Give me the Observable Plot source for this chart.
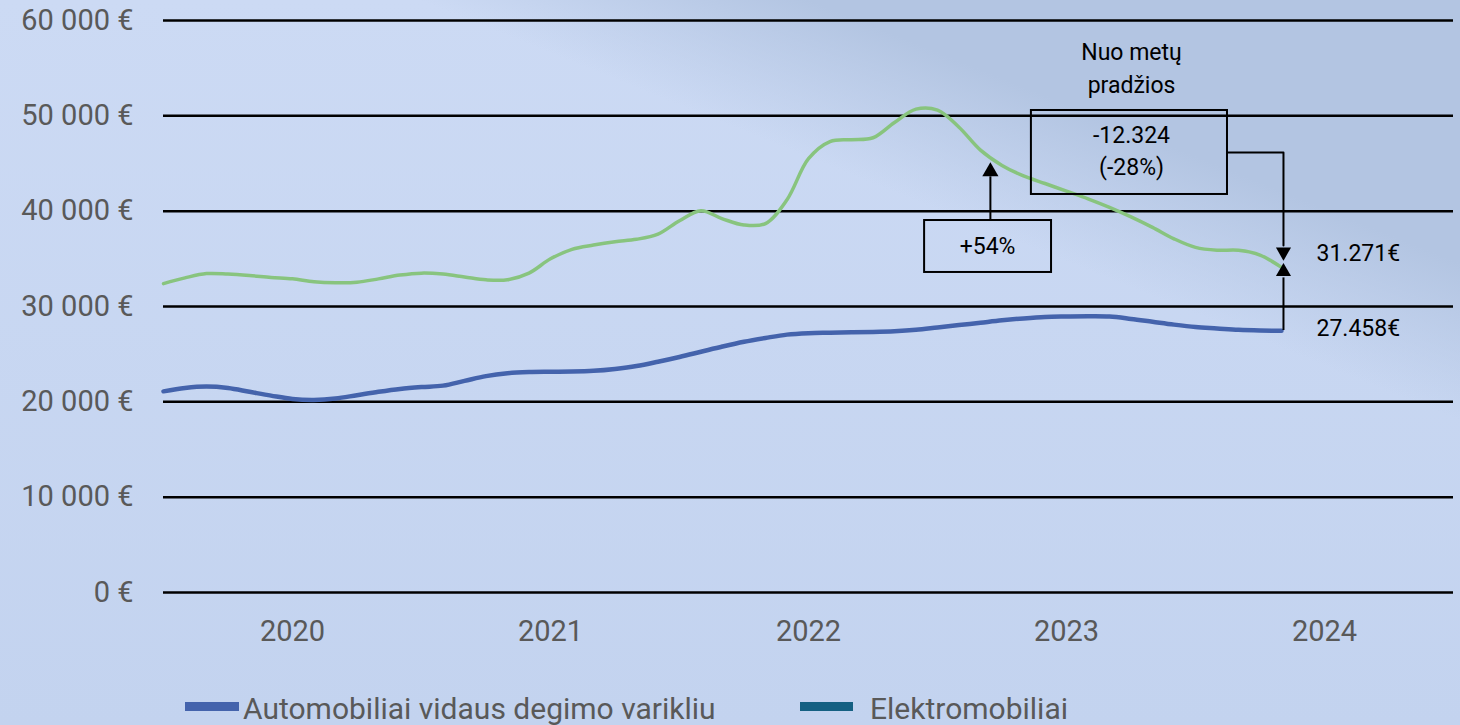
<!DOCTYPE html>
<html>
<head>
<meta charset="utf-8">
<script src="https://cdn.jsdelivr.net/npm/d3@7"></script>
<script src="https://cdn.jsdelivr.net/npm/@observablehq/plot@0.6"></script>
<style>
  html, body { margin: 0; padding: 0; }
  body {
    width: 1460px; height: 725px; overflow: hidden; position: relative;
    font-family: Roboto, "Noto Sans", sans-serif;
    background:
      linear-gradient(22deg, rgba(179,197,226,0) 68%, rgba(179,197,226,1) 80%),
      linear-gradient(to bottom, #CCDAF4, #C3D3EF);
  }
  #legend { position: absolute; left: 0; top: 670px; width: 1460px; height: 55px; }
  .sw { position: absolute; height: 9px; top: 32px; }
  .lt { position: absolute; top: 24px; font-size: 30px; color: #595959; line-height: 30px; white-space: nowrap; }
</style>
</head>
<body>
<div id="chart"></div>
<div id="legend">
  <div class="sw" style="left:185px;width:54px;background:#4463AC"></div>
  <div class="lt" id="l1" style="left:243px"></div>
  <div class="sw" style="left:800px;width:53px;background:#156082"></div>
  <div class="lt" id="l2" style="left:870px"></div>
</div>
<script>
// ---- data ----
const months = [
  "2020-01","2020-02","2020-03","2020-04","2020-05","2020-06","2020-07","2020-08","2020-09","2020-10","2020-11","2020-12",
  "2021-01","2021-02","2021-03","2021-04","2021-05","2021-06","2021-07","2021-08","2021-09","2021-10","2021-11","2021-12",
  "2022-01","2022-02","2022-03","2022-04","2022-05","2022-06","2022-07","2022-08","2022-09","2022-10","2022-11","2022-12",
  "2023-01","2023-02","2023-03","2023-04","2023-05","2023-06","2023-07","2023-08","2023-09","2023-10","2023-11","2023-12",
  "2024-01","2024-02","2024-03","2024-04","2024-05"
];
const iceValues = [
  21100,21450,21600,21450,21050,20650,20300,20200,20350,20700,21050,21350,
  21550,21700,22200,22700,23000,23120,23150,23170,23250,23450,23750,24200,
  24700,25250,25800,26300,26700,27050,27200,27250,27300,27330,27400,27550,
  27800,28050,28300,28550,28750,28900,28950,28980,28950,28700,28400,28100,
  27850,27700,27550,27480,27460
];
const evValues = [
  32400,33000,33450,33400,33250,33050,32900,32600,32500,32550,32900,33300,
  33500,33400,33100,32800,32800,33500,35000,36000,36450,36800,37050,37600,
  39000,40050,39200,38550,38700,41200,45500,47300,47500,47700,49300,50700,
  50600,48800,46400,44800,43700,42900,42100,41300,40400,39400,38300,37100,
  36200,35900,35900,35400,34100
];
const seriesNames = ["Automobiliai vidaus degimo varikliu", "Elektromobiliai"];
const yearLabels = [2020, 2021, 2022, 2023, 2024];
const yTicks = [0, 10000, 20000, 30000, 40000, 50000, 60000];

// annotation texts
const annNote = ["Nuo metų", "pradžios"];
const annChange = ["-12.324", "(-28%)"];
const annPct = "+54%";
const annLast = ["31.271€", "27.458€"];

// ---- build ----
const toT = m => { const [y, mo] = m.split("-").map(Number); return y + (mo - 1) / 12; };
const ice = months.map((m, i) => ({t: toT(m), v: iceValues[i]}));
const ev = months.map((m, i) => ({t: toT(m), v: evValues[i]}));
const lastT = 2024.341;

document.getElementById("l1").textContent = seriesNames[0];
document.getElementById("l2").textContent = seriesNames[1];

const fmtY = v => (v === 0 ? "0" : d3.format(",")(v).replace(/,/g, " ")) + " €";

const txt = {fill: "black", fontSize: 23, stroke: null};

const plot = Plot.plot({
  width: 1460,
  height: 670,
  marginLeft: 163,
  marginRight: 7,
  marginTop: 20,
  marginBottom: 78,
  style: {background: "transparent", fontSize: "29px", color: "#595959", fontFamily: "Roboto, 'Noto Sans', sans-serif"},
  x: {domain: [2020, 2025], ticks: yearLabels.map(y => y + 0.5), tickFormat: d => String(Math.floor(d)), tickSize: 0, tickPadding: 28, label: null},
  y: {domain: [0, 60000], ticks: yTicks, tickFormat: fmtY, tickSize: 0, tickPadding: 30, label: null},
  marks: [
    Plot.ruleY(yTicks, {stroke: "black", strokeWidth: 2.5}),
    Plot.line(ev, {x: "t", y: "v", stroke: "#88C47E", strokeWidth: 3.5, curve: "catmull-rom"}),
    Plot.line(ice, {x: "t", y: "v", stroke: "#4463AC", strokeWidth: 4.5, curve: "catmull-rom"}),
    // boxes
    Plot.rect([{x1: 2023.364, x2: 2024.124, y1: 41750, y2: 50560}, {x1: 2022.950, x2: 2023.442, y1: 33570, y2: 39020}],
      {x1: "x1", x2: "x2", y1: "y1", y2: "y2", fill: "none", stroke: "black", strokeWidth: 2}),
    // connector from change box to arrow
    Plot.line([{t: 2024.124, v: 46160}, {t: lastT, v: 46160}, {t: lastT, v: 36400}],
      {x: "t", y: "v", stroke: "black", strokeWidth: 2}),
    Plot.ruleX([lastT], {y1: 27480, y2: 33000, stroke: "black", strokeWidth: 2}),
    Plot.ruleX([2023.205], {y1: 39020, y2: 43600, stroke: "black", strokeWidth: 2}),
    // arrow heads
    Plot.dot([{t: lastT, v: 35720}], {x: "t", y: "v", symbol: "triangle", r: 5.6, fill: "black", stroke: null, rotate: 180}),
    Plot.dot([{t: lastT, v: 33650}], {x: "t", y: "v", symbol: "triangle", r: 5.6, fill: "black", stroke: null}),
    Plot.dot([{t: 2023.205, v: 44160}], {x: "t", y: "v", symbol: "triangle", r: 6, fill: "black", stroke: null}),
    // texts
    Plot.text([annNote[0]], {x: 2023.752, y: 56680, text: d => d, ...txt}),
    Plot.text([annNote[1]], {x: 2023.752, y: 53170, text: d => d, ...txt}),
    Plot.text([annChange[0]], {x: 2023.752, y: 47940, text: d => d, ...txt}),
    Plot.text([annChange[1]], {x: 2023.752, y: 44580, text: d => d, ...txt}),
    Plot.text([annPct], {x: 2023.194, y: 36300, text: d => d, ...txt}),
    Plot.text([annLast[0]], {x: 2024.469, y: 35560, text: d => d, textAnchor: "start", ...txt}),
    Plot.text([annLast[1]], {x: 2024.469, y: 27690, text: d => d, textAnchor: "start", ...txt})
  ]
});
document.getElementById("chart").appendChild(plot);
</script>
</body>
</html>
